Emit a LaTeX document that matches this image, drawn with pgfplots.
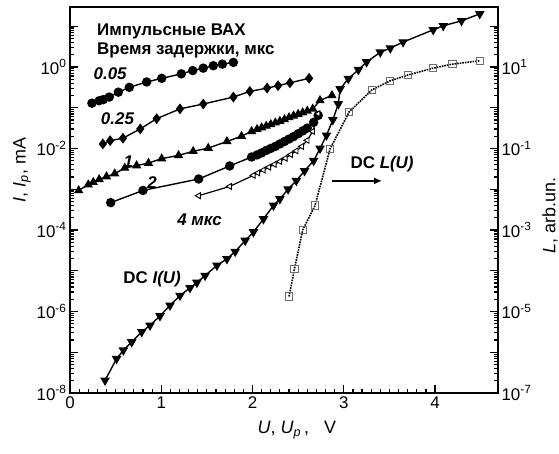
\documentclass[border=0pt]{standalone}
\usepackage{fontspec}
\setmainfont{Liberation Sans}
\usepackage{pgfplots}
\pgfplotsset{compat=1.18}
\usetikzlibrary{arrows.meta}

\definecolor{sqgray}{RGB}{110,110,110}

\pgfplotsset{
  mycommon/.style={
    scale only axis, width=428bp, height=386bp,
    xmin=0, xmax=4.69,
    tick align=inside,
    major tick length=8bp, minor tick length=4.5bp,
    tick style={black, line width=1.2bp},
    axis line style={line width=1.5bp},
    tick label style={font=\fontsize{17}{19}\selectfont},
    label style={font=\fontsize{18}{20}\selectfont},
    /pgf/number format/assume math mode=true,
  },
  myser/.style={black, line width=1.4bp, mark options={solid, fill=black}},
}
\tikzset{
  ann/.style={font=\fontsize{17}{19}\selectfont\bfseries},
  anni/.style={font=\fontsize{17}{19}\selectfont\bfseries\itshape},
}

\begin{document}
\begin{tikzpicture}
% left axis: currents
\begin{axis}[mycommon, ymode=log,
  ymin=1e-8, ymax=29.5,
  xtick={0,1,2,3,4}, minor x tick num=9,
  ytickten={-8,-7,-6,-5,-4,-3,-2,-1,0,1},
  yticklabels={10\textsuperscript{-8},,10\textsuperscript{-6},,10\textsuperscript{-4},,10\textsuperscript{-2},,10\textsuperscript{0},},
  xtick pos=left, ytick pos=left,
  xlabel={\textit{U}, \textit{U}\textsubscript{\textit{p}}\,,\ \ \ V},
  xlabel style={at={(rel axis cs:0.53,0)}, anchor=center, yshift=-37bp},
  ylabel={\textit{I}, \textit{I}\textsubscript{\textit{p}}, mA},
  ylabel style={at={([xshift=-48bp]rel axis cs:0,0.578)}, anchor=center},
  clip=false,
]
\coordinate (bl) at (rel axis cs:0,0);
\coordinate (tr) at (rel axis cs:1,1);
% 0.05 us
\addplot[myser, mark=*, mark size=4bp] coordinates {
 (0.24,0.129) (0.32,0.148) (0.365,0.158) (0.43,0.182) (0.53,0.240) (0.65,0.316)
 (0.84,0.427) (1.005,0.525) (1.22,0.676) (1.345,0.813) (1.46,0.933) (1.57,1.07)
 (1.67,1.17) (1.79,1.29)
};
% 0.25 us
\addplot[myser, mark=diamond*, mark size=4.3bp] coordinates {
 (0.36,0.0129) (0.44,0.0155) (0.58,0.0178) (0.77,0.0302) (0.95,0.0537) (1.205,0.0933)
 (1.46,0.123) (1.79,0.182) (1.97,0.251) (2.16,0.302) (2.28,0.347) (2.41,0.407) (2.62,0.525)
};
% 1 us
\addplot[myser, mark=triangle*, mark size=4bp] coordinates {
 (0.095,9.33e-4) (0.20,1.29e-3) (0.255,1.48e-3) (0.32,1.74e-3) (0.40,2.04e-3) (0.49,2.40e-3)
 (0.60,3.31e-3) (0.73,3.80e-3) (0.86,4.37e-3) (1.005,5.62e-3) (1.19,6.76e-3) (1.35,8.51e-3)
 (1.515,1.02e-2) (1.72,1.48e-2) (1.88,2.00e-2) (1.99,2.63e-2) (2.05,2.95e-2) (2.10,3.24e-2)
 (2.15,3.55e-2) (2.20,3.89e-2) (2.25,4.27e-2) (2.30,4.68e-2) (2.35,5.13e-2) (2.40,5.75e-2)
 (2.45,6.31e-2) (2.50,6.92e-2) (2.55,7.59e-2) (2.60,8.32e-2) (2.66,9.33e-2) (2.74,0.151)
 (2.87,0.200)
};
% 2 us
\addplot[myser, mark=*, mark size=4bp] coordinates {
 (0.446,4.68e-4) (0.80,9.33e-4) (1.41,1.78e-3) (1.75,3.72e-3) (1.99,6.17e-3) (2.05,6.92e-3)
 (2.10,7.76e-3) (2.15,8.91e-3) (2.20,1e-2) (2.25,1.12e-2) (2.30,1.29e-2) (2.35,1.48e-2)
 (2.40,1.70e-2) (2.45,1.95e-2) (2.50,2.29e-2) (2.55,2.69e-2) (2.60,3.16e-2) (2.67,4.37e-2)
 (2.72,6.46e-2)
};
% 4 us
\addplot[black, line width=1.2bp, mark=triangle*, mark size=3.4bp,
  mark options={solid, fill=white, draw=black, line width=0.9bp, rotate=90}] coordinates {
 (1.41,6.92e-4) (1.75,1.17e-3) (2.01,2.19e-3) (2.06,2.51e-3) (2.12,2.95e-3) (2.18,3.47e-3)
 (2.24,4.07e-3) (2.30,4.79e-3) (2.36,5.75e-3) (2.42,7.08e-3) (2.48,8.71e-3) (2.54,1.12e-2)
 (2.60,1.58e-2) (2.66,2.63e-2) (2.72,7.08e-2)
};
% DC I(U)
\addplot[myser, mark=triangle*, mark size=4.2bp, mark options={rotate=180}] coordinates {
 (0.384,2.04e-8) (0.51,6.92e-8) (0.585,1.12e-7) (0.676,1.78e-7) (0.786,3.16e-7) (0.877,4.57e-7)
 (0.986,7.76e-7) (1.096,1.41e-6) (1.205,2.45e-6) (1.315,3.80e-6) (1.39,5.13e-6) (1.48,7.59e-6)
 (1.61,1.35e-5) (1.72,1.95e-5) (1.81,2.95e-5) (1.92,5.50e-5) (2.01,8.91e-5) (2.12,1.86e-4)
 (2.23,3.98e-4) (2.30,5.75e-4) (2.39,1e-3) (2.48,1.62e-3) (2.57,2.82e-3) (2.67,5.01e-3)
 (2.74,1e-2) (2.81,2.09e-2) (2.88,5.01e-2) (2.94,0.123) (2.96,0.288) (3.05,0.513)
 (3.16,0.851) (3.25,1.32) (3.40,2.29) (3.51,2.88) (3.65,4.07) (3.98,8.13) (4.09,10.2)
 (4.29,13.5) (4.49,20.0)
};
% annotations
\node[ann, anchor=west] at (axis cs:0.26,7.63) {Импульсные ВАХ};
\node[ann, anchor=west] at (axis cs:0.26,2.47) {Время задержки, мкс};
\node[anni] at (axis cs:0.44,0.667) {0.05};
\node[anni] at (axis cs:0.52,0.053) {0.25};
\node[anni] at (axis cs:0.64,4.7e-3) {1};
\node[anni] at (axis cs:0.90,1.43e-3) {2};
\node[anni] at (axis cs:1.42,1.77e-4) {4 мкс};
\node[ann] at (axis cs:0.90,6.4e-6) {DC \textit{I(U)}};
\node[ann] at (axis cs:3.42,4.2e-3) {DC \textit{L(U)}};
\draw[-{Latex[length=8bp,width=7bp]}, line width=1.6bp] (axis cs:2.87,1.6e-3) -- (axis cs:3.42,1.6e-3);
\end{axis}
% right axis: luminescence
\begin{axis}[mycommon, ymode=log,
  ymin=1e-7, ymax=295,
  hide x axis, axis y line*=right,
  ytickten={-7,-6,-5,-4,-3,-2,-1,0,1,2},
  yticklabels={10\textsuperscript{-7},,10\textsuperscript{-5},,10\textsuperscript{-3},,10\textsuperscript{-1},,10\textsuperscript{1},},
  ylabel={\textit{L}, arb.un.},
  ylabel style={at={([xshift=52bp]rel axis cs:1,0.46)}, anchor=center},
]
\addplot[black, densely dotted, line width=1.6bp, mark=square, mark size=3.6bp,
  mark options={solid, draw=sqgray, fill=white, line width=0.9bp}] coordinates {
 (2.40,2.34e-5) (2.46,1.12e-4) (2.55,1e-3) (2.685,3.98e-3) (2.85,9.77e-2) (3.06,0.794)
 (3.31,2.75) (3.51,4.57) (3.70,6.31) (3.98,9.33) (4.19,11.7) (4.49,14.1)
};
\end{axis}
\pgfresetboundingbox
\path[use as bounding box] ([xshift=-70bp,yshift=-61bp]bl) rectangle ([xshift=61bp,yshift=7bp]tr);
\end{tikzpicture}
\end{document}
